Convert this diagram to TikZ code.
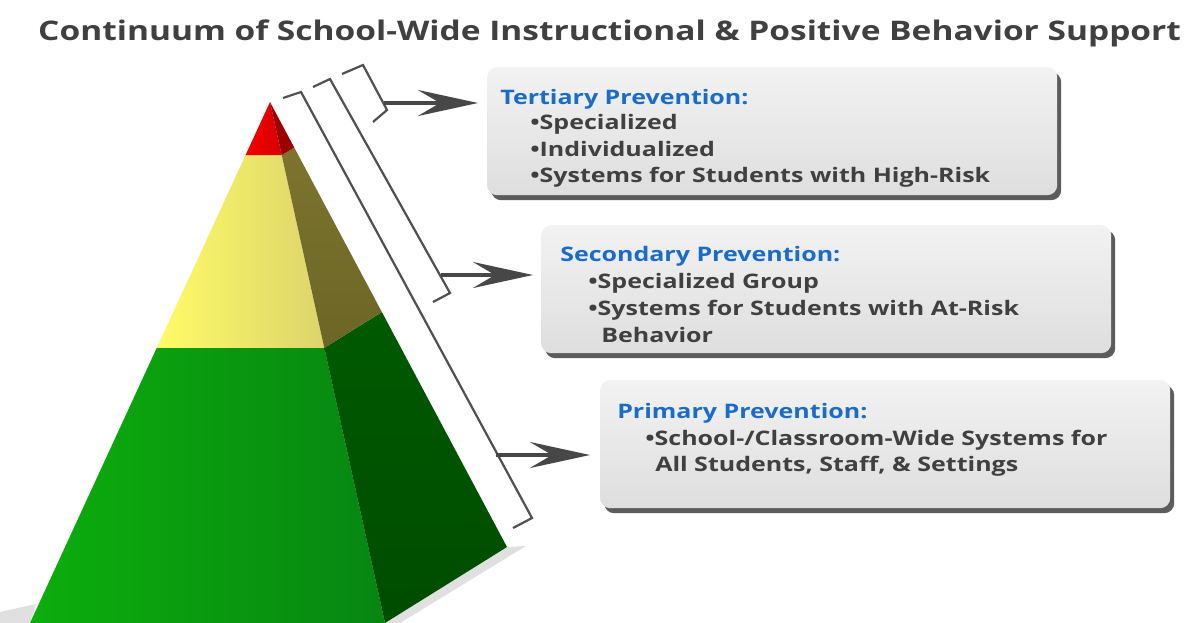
\documentclass[tikz,border=0pt]{standalone}
\usepackage{fontspec}
\setmainfont{Open Sans}
\usetikzlibrary{arrows.meta,shadows,calc}
\definecolor{titlegray}{HTML}{404040}
\definecolor{textgray}{HTML}{404040}
\definecolor{headblue}{HTML}{1A6CC8}
\definecolor{brgray}{HTML}{505050}
\definecolor{argray}{HTML}{474747}
\definecolor{redfrontL}{HTML}{F40000}
\definecolor{redfrontR}{HTML}{D80000}
\definecolor{redside}{HTML}{9C0000}
\definecolor{yelL}{HTML}{FFFB66}
\definecolor{yelR}{HTML}{DCD46C}
\definecolor{olive}{HTML}{7C742E}
\definecolor{olive2}{HTML}{6C6626}
\definecolor{grnL}{HTML}{0CAE0C}
\definecolor{grnR}{HTML}{078612}
\definecolor{grnside}{HTML}{005A00}
\definecolor{grnside2}{HTML}{004C00}
\definecolor{boxtop}{HTML}{F2F2F2}
\definecolor{boxbot}{HTML}{DEDEDE}
\tikzset{
  infobox/.style={rectangle, rounded corners=10pt, minimum width=570pt,
    minimum height=128pt, anchor=north west, inner sep=0pt,
    top color=boxtop, bottom color=boxbot,
    drop shadow={shadow xshift=4pt, shadow yshift=-5pt, fill=black!75, opacity=0.85}},
  headtxt/.style={anchor=base west, inner sep=0pt, text=headblue, xscale=1.25,
    transform shape, font=\fontsize{20}{24}\selectfont\bfseries},
  itemtxt/.style={anchor=base west, inner sep=0pt, text=textgray, xscale=1.25,
    transform shape, font=\fontsize{20}{24}\selectfont\bfseries},
  bracket/.style={draw=brgray, line width=2.2pt, line join=miter},
  pointer/.style={draw=argray, line width=4.5pt,
    -{Stealth[length=60pt, width=26pt, inset=22pt]}}
}
\begin{document}
\begin{tikzpicture}[x=1pt,y=-1pt]
\useasboundingbox (0,0) rectangle (1190,623);
\fill[white] (0,0) rectangle (1190,623);

% title
\node[anchor=base west, inner sep=0pt, text=titlegray, xscale=1.24, transform shape,
  font=\fontsize{27}{32}\selectfont\bfseries] (title) at (38,41)
  {Continuum of School-Wide Instructional \& Positive Behavior Support};

% pyramid
\coordinate (A) at (270,102);
\coordinate (FL) at (30,623);
\coordinate (FR) at (385,623);
\coordinate (S) at (507,547);
\coordinate (rL) at ($(A)!0.102!(FL)$);
\coordinate (rR) at ($(A)!0.102!(FR)$);
\coordinate (rS) at ($(A)!0.102!(S)$);
\coordinate (yL) at ($(A)!0.472!(FL)$);
\coordinate (yR) at ($(A)!0.472!(FR)$);
\coordinate (yS) at ($(A)!0.472!(S)$);

% soft shadows
\fill[black!12] (0,612) -- (36,604) -- (30,623) -- (0,623) -- cycle;
\fill[black!12] (S) -- (526,546) -- (400,623) -- (385,623) -- cycle;

\shade[left color=grnL, right color=grnR] (yL) -- (yR) -- (FR) -- (FL) -- cycle;
\shade[top color=grnside, bottom color=grnside2] (yR) -- (yS) -- (S) -- (FR) -- cycle;
\shade[left color=yelL, right color=yelR] (rL) -- (rR) -- (yR) -- (yL) -- cycle;
\shade[top color=olive, bottom color=olive2] (rR) -- (rS) -- (yS) -- (yR) -- cycle;
\shade[left color=redfrontL, right color=redfrontR] (A) -- (rR) -- (rL) -- cycle;
\fill[redside] (A) -- (rS) -- (rR) -- cycle;

% brackets
\draw[bracket] (283,98) -- (301,92) -- (532,518) -- (513,528);
\draw[bracket] (313,87) -- (330,79) -- (450,293) -- (433,302);
\draw[bracket] (342,74) -- (363,65) -- (387,110) -- (373,122);
\coordinate (p3) at (384,103);
\coordinate (p2) at (441,275);
\coordinate (p1) at (496,455);

% boxes
\node[infobox] (t3) at (487,67) {};
\node[infobox] (t2) at (541,225) {};
\node[infobox] (t1) at (600,380) {};

% arrows
\draw[pointer, shorten >=9pt] (p3) -- (p3 -| t3.west);
\draw[pointer, shorten >=8pt] (p2) -- (p2 -| t2.west);
\draw[pointer, shorten >=10pt] (p1) -- (p1 -| t1.west);

% texts
\node[headtxt] (h3) at (500,105) {Tertiary Prevention:};
\node[itemtxt] (i31) at (530,129) {•Specialized};
\node[itemtxt] (i32) at (530,156) {•Individualized};
\node[itemtxt] (i33) at (530,182) {•Systems for Students with High-Risk};

\node[headtxt] (h2) at (560,261) {Secondary Prevention:};
\node[itemtxt] (i21) at (588,288) {•Specialized Group};
\node[itemtxt] (i22) at (588,315) {•Systems for Students with At-Risk};
\node[itemtxt] (i23) at (601,342) {Behavior};

\node[headtxt] (h1) at (617,418) {Primary Prevention:};
\node[itemtxt] (i11) at (645,445) {•School-/Classroom-Wide Systems for};
\node[itemtxt] (i12) at (655,471) {All Students, Staff, \& Settings};
\end{tikzpicture}
\end{document}
